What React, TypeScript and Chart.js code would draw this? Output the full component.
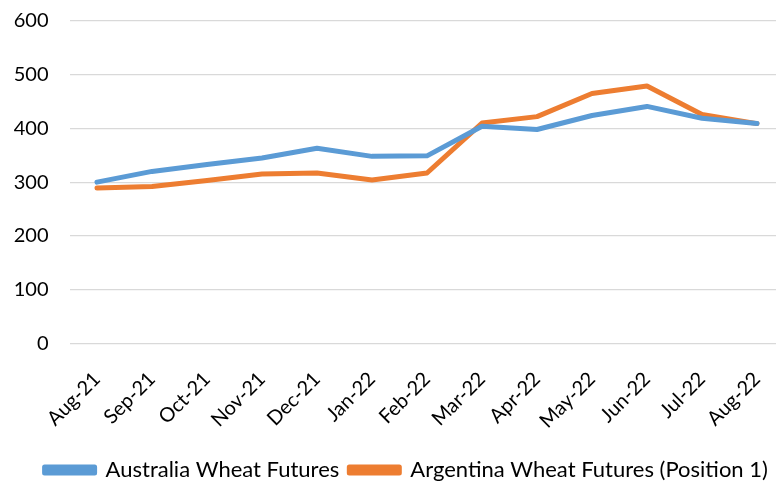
import React, { useEffect, useRef } from "react";
import { Chart, registerables } from "chart.js";

Chart.register(...registerables);

const categories = ["Aug-21", "Sep-21", "Oct-21", "Nov-21", "Dec-21", "Jan-22", "Feb-22", "Mar-22", "Apr-22", "May-22", "Jun-22", "Jul-22", "Aug-22"];
const australiaWheat = [300, 320, 333, 345, 363, 348, 349, 404, 398, 424, 441, 419, 409];
const argentinaWheat = [289, 292, 303, 315, 317, 304, 317, 410, 422, 465, 479, 426, 409];
const yMin = 0;
const yMax = 600;
const yStep = 100;

const FONT = "Lato";
const LEGEND_SHIFT = 14;

const legendShift = {
  id: "legendShift",
  afterLayout(chart: any) {
    if (chart.legend) {
      chart.legend.left += LEGEND_SHIFT;
      chart.legend.right += LEGEND_SHIFT;
    }
  },
};

export default function App() {
  const ref = useRef<HTMLCanvasElement | null>(null);
  useEffect(() => {
    if (!ref.current) return;
    const chart = new Chart(ref.current, {
      type: "line",
      data: {
        labels: categories,
        datasets: [
          {
            label: "Australia Wheat Futures",
            data: australiaWheat,
            borderColor: "#5B9BD5",
            backgroundColor: "#5B9BD5",
            borderWidth: 5,
            pointRadius: 0,
            tension: 0,
            borderJoinStyle: "round",
            borderCapStyle: "round",
          },
          {
            label: "Argentina Wheat Futures (Position 1)",
            data: argentinaWheat,
            borderColor: "#ED7D31",
            backgroundColor: "#ED7D31",
            borderWidth: 5,
            pointRadius: 0,
            tension: 0,
            borderJoinStyle: "round",
            borderCapStyle: "round",
          },
        ],
      },
      plugins: [legendShift],
      options: {
        animation: false,
        responsive: false,
        layout: { padding: { left: 0, right: 15.5, top: 21, bottom: -8 } },
        plugins: {
          tooltip: { enabled: false },
          legend: {
            position: "bottom",
            labels: {
              boxWidth: 50,
              boxHeight: 6,
              padding: 10,
              color: "#000",
              font: { family: FONT, size: 22 },
            },
          },
        },
        scales: {
          x: {
            offset: true,
            grid: { display: false },
            border: { display: false },
            ticks: {
              minRotation: 45,
              maxRotation: 45,
              labelOffset: 0,
              padding: 16,
              color: "#000",
              font: { family: FONT, size: 20 },
            },
          },
          y: {
            min: yMin,
            max: yMax,
            afterFit: (scale: any) => {
              scale.width = 69.5;
              scale.paddingTop = 0;
              scale.paddingBottom = 0;
            },
            grid: { color: "#D9D9D9", lineWidth: 1.3, drawTicks: false },
            border: { display: false },
            ticks: {
              stepSize: yStep,
              padding: 21,
              color: "#000",
              font: { family: FONT, size: 20 },
            },
          },
        },
      },
    });
    return () => chart.destroy();
  }, []);
  return (
    <div style={{ position: "absolute", left: 0, top: 0, width: 776, height: 483, overflow: "hidden", background: "#fff" }}>
      <canvas ref={ref} width={800} height={483} style={{ width: 800, height: 483, display: "block" }} />
    </div>
  );
}
